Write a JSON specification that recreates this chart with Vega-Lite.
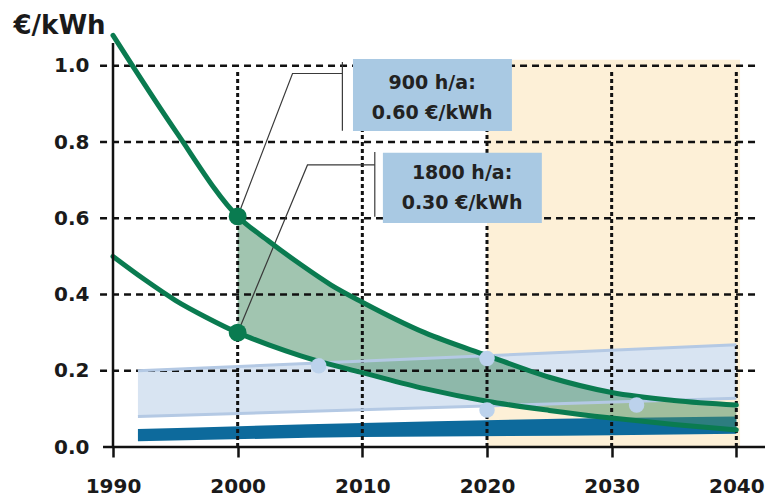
{
  "$schema": "https://vega.github.io/schema/vega-lite/v6.json",
  "width": 652,
  "height": 404,
  "autosize": "none",
  "padding": {"left": 113, "top": 43, "right": 4, "bottom": 53},
  "background": "white",
  "config": {
    "view": {"stroke": null},
    "axisX": {"domain": false, "grid": false, "ticks": true, "tickSize": 10, "tickWidth": 2.5, "tickColor": "#111", "labelPadding": 19, "labelFont": "DejaVu Sans", "labelFontSize": 20, "labelFontWeight": "bold", "labelColor": "#1a1a1a", "labelFlush": false, "labelOverlap": false, "labelBound": false},
    "axisY": {"domain": false, "grid": false, "ticks": false, "labelPadding": 24, "labelFont": "DejaVu Sans", "labelFontSize": 20, "labelFontWeight": "bold", "labelColor": "#1a1a1a", "labelOverlap": false, "labelBound": false,
      "titleAngle": 0, "titleAlign": "left", "titleBaseline": "alphabetic", "titleX": -100, "titleY": -10, "titleFont": "DejaVu Sans", "titleFontSize": 26, "titleFontWeight": "bold", "titleColor": "#1a1a1a"}
  },
  "datasets": {
    "future": [{"x1": 2020, "x2": 2040.3, "y1": 0, "y2": 1.016}],
    "blueband": [{"year": 1992, "lo": 0.08, "hi": 0.2}, {"year": 2040, "lo": 0.128, "hi": 0.268}],
    "darkband": [{"year": 1992, "lo": 0.015, "hi": 0.047}, {"year": 2010, "lo": 0.026, "hi": 0.063}, {"year": 2030, "lo": 0.031, "hi": 0.076}, {"year": 2040, "lo": 0.035, "hi": 0.08}],
    "greenband": [
      {"year": 2000, "up": 0.605, "lo": 0.3},
      {"year": 2002.5, "up": 0.54, "lo": 0.268},
      {"year": 2005, "up": 0.48, "lo": 0.24},
      {"year": 2007.5, "up": 0.425, "lo": 0.216},
      {"year": 2010, "up": 0.38, "lo": 0.195},
      {"year": 2015, "up": 0.3, "lo": 0.153},
      {"year": 2020, "up": 0.24, "lo": 0.12},
      {"year": 2025, "up": 0.183, "lo": 0.096},
      {"year": 2030, "up": 0.143, "lo": 0.076},
      {"year": 2035, "up": 0.122, "lo": 0.059},
      {"year": 2040, "up": 0.11, "lo": 0.045}
    ],
    "greenlines": [
      {"series": "900 h/a", "year": 1990, "v": 1.08},
      {"series": "900 h/a", "year": 1995, "v": 0.83},
      {"series": "900 h/a", "year": 2000, "v": 0.605},
      {"series": "900 h/a", "year": 2002.5, "v": 0.54},
      {"series": "900 h/a", "year": 2005, "v": 0.48},
      {"series": "900 h/a", "year": 2007.5, "v": 0.425},
      {"series": "900 h/a", "year": 2010, "v": 0.38},
      {"series": "900 h/a", "year": 2015, "v": 0.3},
      {"series": "900 h/a", "year": 2020, "v": 0.24},
      {"series": "900 h/a", "year": 2025, "v": 0.183},
      {"series": "900 h/a", "year": 2030, "v": 0.143},
      {"series": "900 h/a", "year": 2035, "v": 0.122},
      {"series": "900 h/a", "year": 2040, "v": 0.11},
      {"series": "1800 h/a", "year": 1990, "v": 0.5},
      {"series": "1800 h/a", "year": 1992.5, "v": 0.44},
      {"series": "1800 h/a", "year": 1995, "v": 0.385},
      {"series": "1800 h/a", "year": 1997.5, "v": 0.34},
      {"series": "1800 h/a", "year": 2000, "v": 0.3},
      {"series": "1800 h/a", "year": 2002.5, "v": 0.268},
      {"series": "1800 h/a", "year": 2005, "v": 0.24},
      {"series": "1800 h/a", "year": 2007.5, "v": 0.216},
      {"series": "1800 h/a", "year": 2010, "v": 0.195},
      {"series": "1800 h/a", "year": 2015, "v": 0.153},
      {"series": "1800 h/a", "year": 2020, "v": 0.12},
      {"series": "1800 h/a", "year": 2025, "v": 0.096},
      {"series": "1800 h/a", "year": 2030, "v": 0.076},
      {"series": "1800 h/a", "year": 2035, "v": 0.059},
      {"series": "1800 h/a", "year": 2040, "v": 0.045}
    ],
    "bluelines": [
      {"series": "upper", "year": 1992, "v": 0.2},
      {"series": "upper", "year": 2040, "v": 0.268},
      {"series": "lower", "year": 1992, "v": 0.08},
      {"series": "lower", "year": 2040, "v": 0.128}
    ],
    "hgrid": [{"v": 0.2}, {"v": 0.4}, {"v": 0.6}, {"v": 0.8}, {"v": 1.0}],
    "vgrid": [{"year": 2000}, {"year": 2010}, {"year": 2020}, {"year": 2030}, {"year": 2040}],
    "greendots": [{"year": 2000, "v": 0.605}, {"year": 2000, "v": 0.3}],
    "bluedots": [{"year": 2006.5, "v": 0.213}, {"year": 2020, "v": 0.232}, {"year": 2020, "v": 0.097}, {"year": 2032, "v": 0.11}],
    "leaders": [
      {"id": "a", "o": 1, "year": 2000, "v": 0.605},
      {"id": "a", "o": 2, "year": 2004.4, "v": 0.98},
      {"id": "a", "o": 3, "year": 2008.4, "v": 0.98},
      {"id": "b", "o": 1, "year": 2000, "v": 0.3},
      {"id": "b", "o": 2, "year": 2005.6, "v": 0.74},
      {"id": "b", "o": 3, "year": 2011.0, "v": 0.74},
      {"id": "c", "o": 1, "year": 2008.4, "v": 1.01},
      {"id": "c", "o": 2, "year": 2008.4, "v": 0.83},
      {"id": "d", "o": 1, "year": 2011.0, "v": 0.774},
      {"id": "d", "o": 2, "year": 2011.0, "v": 0.604}
    ],
    "boxes": [
      {"x1": 2009.25, "x2": 2022.0, "y1": 0.829, "y2": 1.018},
      {"x1": 2011.65, "x2": 2024.4, "y1": 0.588, "y2": 0.772}
    ],
    "boxtext": [
      {"year": 2015.6, "v": 0.955, "label": "900 h/a:"},
      {"year": 2015.6, "v": 0.877, "label": "0.60 €/kWh"},
      {"year": 2018.0, "v": 0.719, "label": "1800 h/a:"},
      {"year": 2018.0, "v": 0.64, "label": "0.30 €/kWh"}
    ],
    "axes": [
      {"id": "x", "o": 1, "year": 1989.2, "v": 0},
      {"id": "x", "o": 2, "year": 2042.3, "v": 0},
      {"id": "y", "o": 1, "year": 1990, "v": 0},
      {"id": "y", "o": 2, "year": 1990, "v": 1.06}
    ]
  },
  "layer": [
    {
      "data": {"name": "future"},
      "mark": {"type": "rect", "color": "#FDF0D7"},
      "encoding": {
        "x": {"field": "x1", "type": "quantitative", "title": null, "scale": {"domain": [1990, 2042.3], "nice": false, "zero": false},
          "axis": {"values": [1990, 2000, 2010, 2020, 2030, 2040], "format": "d"}},
        "x2": {"field": "x2"},
        "y": {"field": "y1", "type": "quantitative", "title": "€/kWh", "scale": {"domain": [0, 1.06], "nice": false, "zero": false},
          "axis": {"values": [0, 0.2, 0.4, 0.6, 0.8, 1.0], "format": ".1f"}},
        "y2": {"field": "y2"}
      }
    },
    {
      "data": {"name": "blueband"},
      "mark": {"type": "area", "color": "#D8E4F2"},
      "encoding": {
        "x": {"field": "year", "type": "quantitative", "title": null},
        "y": {"field": "lo", "type": "quantitative", "title": "€/kWh"},
        "y2": {"field": "hi"}
      }
    },
    {
      "data": {"name": "darkband"},
      "mark": {"type": "area", "color": "#0D6A9C", "interpolate": "monotone"},
      "encoding": {
        "x": {"field": "year", "type": "quantitative", "title": null},
        "y": {"field": "lo", "type": "quantitative", "title": "€/kWh"},
        "y2": {"field": "hi"}
      }
    },
    {
      "data": {"name": "greenband"},
      "mark": {"type": "area", "color": "#4A9068", "opacity": 0.52, "interpolate": "monotone"},
      "encoding": {
        "x": {"field": "year", "type": "quantitative", "title": null},
        "y": {"field": "lo", "type": "quantitative", "title": "€/kWh"},
        "y2": {"field": "up"}
      }
    },
    {
      "data": {"name": "hgrid"},
      "mark": {"type": "rule", "color": "#111", "strokeWidth": 2.5, "strokeDash": [7, 5]},
      "encoding": {
        "x": {"datum": 1988.96, "type": "quantitative", "title": null},
        "x2": {"datum": 2041.5},
        "y": {"field": "v", "type": "quantitative", "title": "€/kWh"}
      }
    },
    {
      "data": {"name": "vgrid"},
      "mark": {"type": "rule", "color": "#111", "strokeWidth": 3, "strokeDash": [4, 3]},
      "encoding": {
        "x": {"field": "year", "type": "quantitative", "title": null},
        "y": {"datum": 0, "type": "quantitative", "title": "€/kWh"},
        "y2": {"datum": 0.985}
      }
    },
    {
      "data": {"name": "bluelines"},
      "mark": {"type": "line", "color": "#B4C9E4", "strokeWidth": 3},
      "encoding": {
        "x": {"field": "year", "type": "quantitative", "title": null},
        "y": {"field": "v", "type": "quantitative", "title": "€/kWh"},
        "detail": {"field": "series"}
      }
    },
    {
      "data": {"name": "leaders"},
      "mark": {"type": "line", "color": "#3a3a3a", "strokeWidth": 1.2},
      "encoding": {
        "x": {"field": "year", "type": "quantitative", "title": null},
        "y": {"field": "v", "type": "quantitative", "title": "€/kWh"},
        "detail": {"field": "id"},
        "order": {"field": "o"}
      }
    },
    {
      "data": {"name": "greenlines"},
      "mark": {"type": "line", "color": "#0A7B50", "strokeWidth": 5, "interpolate": "monotone", "strokeCap": "round"},
      "encoding": {
        "x": {"field": "year", "type": "quantitative", "title": null},
        "y": {"field": "v", "type": "quantitative", "title": "€/kWh"},
        "detail": {"field": "series"}
      }
    },
    {
      "data": {"name": "greendots"},
      "mark": {"type": "circle", "color": "#0A7B50", "opacity": 1, "size": 320},
      "encoding": {
        "x": {"field": "year", "type": "quantitative", "title": null},
        "y": {"field": "v", "type": "quantitative", "title": "€/kWh"}
      }
    },
    {
      "data": {"name": "bluedots"},
      "mark": {"type": "circle", "color": "#BCD2EC", "opacity": 1, "size": 240},
      "encoding": {
        "x": {"field": "year", "type": "quantitative", "title": null},
        "y": {"field": "v", "type": "quantitative", "title": "€/kWh"}
      }
    },
    {
      "data": {"name": "boxes"},
      "mark": {"type": "rect", "color": "#A9C9E3"},
      "encoding": {
        "x": {"field": "x1", "type": "quantitative", "title": null},
        "x2": {"field": "x2"},
        "y": {"field": "y1", "type": "quantitative", "title": "€/kWh"},
        "y2": {"field": "y2"}
      }
    },
    {
      "data": {"name": "boxtext"},
      "mark": {"type": "text", "font": "DejaVu Sans", "fontSize": 19, "fontWeight": "bold", "color": "#222", "align": "center", "baseline": "middle"},
      "encoding": {
        "x": {"field": "year", "type": "quantitative", "title": null},
        "y": {"field": "v", "type": "quantitative", "title": "€/kWh"},
        "text": {"field": "label"}
      }
    },
    {
      "data": {"name": "axes"},
      "mark": {"type": "line", "color": "#111", "strokeWidth": 2.5},
      "encoding": {
        "x": {"field": "year", "type": "quantitative", "title": null},
        "y": {"field": "v", "type": "quantitative", "title": "€/kWh"},
        "detail": {"field": "id"},
        "order": {"field": "o"}
      }
    }
  ]
}
